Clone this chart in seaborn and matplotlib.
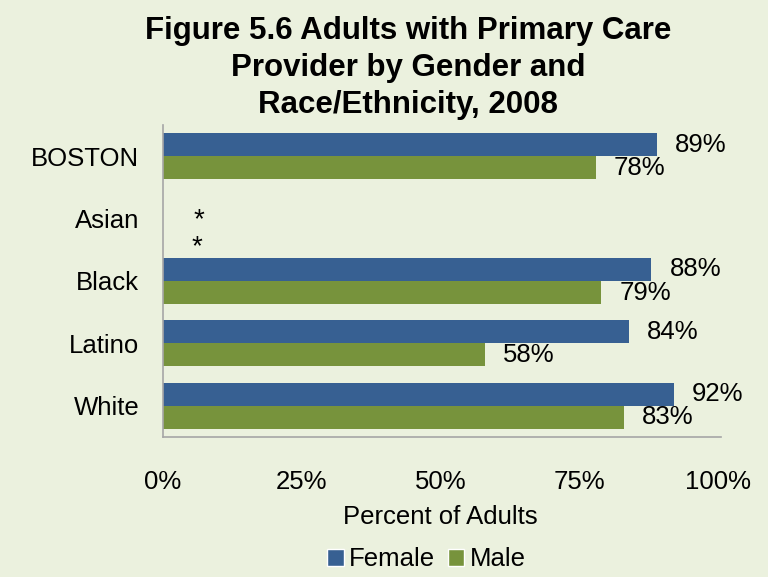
import numpy as np
import pandas as pd
import matplotlib
matplotlib.use("Agg")
import matplotlib.pyplot as plt
import seaborn as sns
from matplotlib.patches import Patch

categories = ["BOSTON", "Asian", "Black", "Latino", "White"]
female = [89, np.nan, 88, 84, 92]
male = [78, np.nan, 79, 58, 83]
genders = ["Female", "Male"]
x_ticks = [0, 25, 50, 75, 100]
x_tick_labels = ["0%", "25%", "50%", "75%", "100%"]
title = "Figure 5.6 Adults with Primary Care\nProvider by Gender and\nRace/Ethnicity, 2008"

bg = "#EBF1DE"
colors = {"Female": "#376092", "Male": "#77933C"}

sns.set_theme(style="white")
plt.rcParams["font.family"] = ["Liberation Sans", "DejaVu Sans"]
plt.rcParams["text.color"] = "black"
plt.rcParams["xtick.color"] = "black"
plt.rcParams["ytick.color"] = "black"
plt.rcParams["axes.labelcolor"] = "black"

rows = []
for c, f, m in zip(categories, female, male):
    rows.append({"cat": c, "gender": "Female", "val": f})
    rows.append({"cat": c, "gender": "Male", "val": m})
df = pd.DataFrame(rows)

fig = plt.figure(figsize=(7.68, 5.77), dpi=100, facecolor=bg)
ax = fig.add_axes([0.212, 0.243, 0.723, 0.54])
ax.set_facecolor(bg)

sns.barplot(data=df, y="cat", x="val", hue="gender", order=categories,
            hue_order=genders, palette=colors, orient="h", width=0.74,
            ax=ax, legend=False, saturation=1, edgecolor="none")

for cont in ax.containers:
    labels = [f"{v:.0f}%" if not np.isnan(v) else "" for v in cont.datavalues]
    ax.bar_label(cont, labels=labels, padding=13, fontsize=18.5, color="black")

# asterisks for suppressed Asian values
ai = categories.index("Asian")
ax.text(6.5, ai + 0.02, "*", fontsize=20, ha="center", va="center")
ax.text(6.2, ai + 0.46, "*", fontsize=20, ha="center", va="center")

ax.set_xlim(0, 100)
ax.set_ylim(len(categories) - 0.5, -0.5)
ax.set_xticks(x_ticks)
ax.set_xticklabels(x_tick_labels, fontsize=18.5)
ax.tick_params(axis="x", pad=24, length=0)
ax.tick_params(axis="y", pad=17, length=0, labelsize=18.5)
ax.set_ylabel("")
ax.set_xlabel("Percent of Adults", fontsize=18.5, labelpad=8)

for s in ["top", "right"]:
    ax.spines[s].set_visible(False)
for s in ["left", "bottom"]:
    ax.spines[s].set_color("#A6A6A6")
    ax.spines[s].set_linewidth(1.2)
ax.spines["bottom"].set_bounds(0, 100.5)

fig.suptitle(title, fontsize=22.5, fontweight="bold", x=0.531, y=0.972,
             linespacing=1.3)

handles = [Patch(facecolor=colors[g], label=g) for g in genders]
fig.legend(handles=handles, loc="lower center", bbox_to_anchor=(0.555, -0.03),
           ncol=2, frameon=False, fontsize=18.5, handlelength=0.65,
           handleheight=0.65, handletextpad=0.2, columnspacing=0.5)

fig.savefig("out.png", dpi=100, facecolor=bg)
